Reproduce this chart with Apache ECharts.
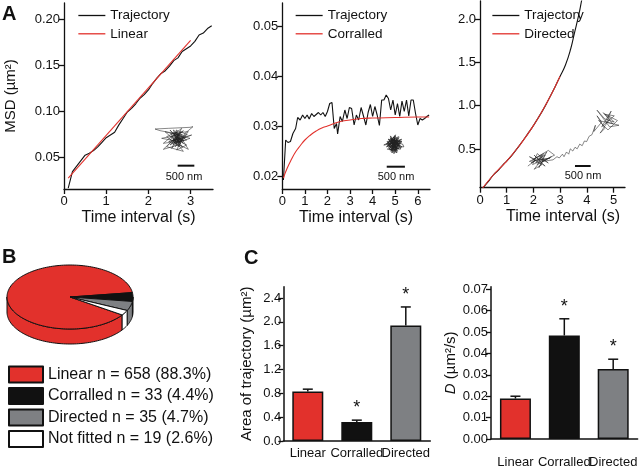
<!DOCTYPE html>
<html><head><meta charset="utf-8">
<script src="https://cdn.jsdelivr.net/npm/echarts@6/dist/echarts.min.js"></script>
<style>html,body{margin:0;padding:0;background:#fff}#c{width:640px;height:469px}</style>
</head><body><div id="c"></div>
<script>
// ---------- DATA ----------
// Panel A1 (Linear)
const a1Time = [0.1,0.2,0.3,0.4,0.5,0.6,0.7,0.8,0.9,1.0,1.1,1.2,1.3,1.4,1.5,1.6,1.7,1.8,1.9,2.0,2.1,2.2,2.3,2.4,2.5,2.6,2.7,2.8,2.9,3.0,3.1,3.2,3.3,3.4,3.5];
const a1Msd  = [0.016,0.034,0.040,0.046,0.052,0.054,0.057,0.061,0.066,0.071,0.074,0.077,0.085,0.092,0.099,0.103,0.108,0.114,0.118,0.123,0.130,0.136,0.141,0.144,0.149,0.155,0.158,0.165,0.168,0.171,0.176,0.183,0.185,0.190,0.193];
const a1FitTime = [0.1,3.0];
const a1Fit     = [0.027,0.177];
// Panel A2 (Corralled)
const a2Time = [0.05,0.15,0.25,0.36,0.47,0.59,0.68,0.79,0.9,1.0,1.1,1.19,1.3,1.4,1.5,1.6,1.7,1.8,1.9,2.0,2.1,2.2,2.3,2.4,2.45,2.56,2.66,2.77,2.87,2.97,3.07,3.18,3.28,3.38,3.49,3.6,3.7,3.8,3.9,4.0,4.1,4.2,4.3,4.4,4.5,4.6,4.7,4.8,4.9,5.0,5.1,5.2,5.3,5.4,5.5,5.6,5.7,5.8,5.9,6.0,6.1,6.2,6.3,6.4,6.5];
const a2Msd  = [0.0192,0.0272,0.0267,0.0269,0.0285,0.0295,0.0317,0.0312,0.0322,0.0315,0.0322,0.0314,0.0325,0.0319,0.0323,0.0327,0.0322,0.0327,0.0319,0.0329,0.0345,0.0347,0.0295,0.0305,0.0284,0.0319,0.0309,0.0332,0.0315,0.0337,0.0335,0.0302,0.0322,0.0312,0.0337,0.0319,0.0302,0.0327,0.0343,0.0319,0.0339,0.0322,0.0301,0.0352,0.0352,0.0362,0.0355,0.0332,0.0352,0.0322,0.0345,0.0319,0.0350,0.0329,0.0352,0.0320,0.0352,0.0352,0.0325,0.0302,0.0315,0.0312,0.0315,0.0319,0.0322];
const a2FitTime = [0.05,0.2,0.4,0.6,0.8,1.0,1.25,1.5,1.75,2.0,2.5,3.0,3.5,4.0,5.0,6.0,6.5];
const a2Fit     = [0.0196,0.0214,0.0233,0.0249,0.0261,0.0272,0.0282,0.0290,0.0296,0.0300,0.0308,0.0312,0.0315,0.0316,0.0317,0.0318,0.0318];
// Panel A3 (Directed)
const a3Time = [0.1,0.3,0.5,0.7,0.9,1.0,1.2,1.5,1.8,2.0,2.3,2.5,2.8,3.0,3.2,3.4,3.53,3.7,3.81,3.9];
const a3Msd  = [0.05,0.12,0.20,0.26,0.33,0.36,0.43,0.55,0.68,0.77,0.92,1.03,1.21,1.34,1.47,1.66,1.83,2.05,2.22,2.35];
const a3FitTime = [0.1,0.5,1.0,1.5,2.0,2.5,3.0];
const a3Fit     = [0.05,0.20,0.36,0.55,0.77,1.03,1.34];
// Inset trajectories (nm)
const inset1Path = [[600,900],[820,1150],[500,1000],[900,700],[700,1200],[1100,900],[400,800],[950,1250],[650,650],[1000,1050],[300,1180],[150,1230],[550,1250],[1200,1280],[1290,1300],[1050,1100],[800,600],[1100,750],[700,950],[1000,560],[500,700],[850,1050],[350,950],[900,850],[1150,1150],[620,1100],[780,800],[1200,950],[450,1150],[980,680],[720,1050],[880,950],[560,850],[1080,1000],[760,700],[930,1150],[650,800],[1020,880],[800,1000],[400,620],[870,760],[1150,620],[950,950],[700,880],[1250,1050],[830,900],[600,1200],[1000,800],[750,1150],[900,1000],[820,980],[700,760],[960,900],[640,1000],[880,1100],[760,860],[1040,940],[700,1120],[920,780],[800,1080],[860,820],[740,1000],[1000,1180],[600,750],[900,920],[780,1200],[1120,1060],[680,900],[850,700],[950,1080]];
const inset2Path = [[646,1114],[780,1250],[520,1000],[700,900],[560,1300],[820,1080],[480,1150],[690,1350],[600,880],[860,1180],[500,1260],[750,1000],[580,1080],[800,1300],[450,1050],[720,1200],[630,950],[880,1050],[540,1180],[700,1380],[610,1000],[770,1150],[470,1200],[660,860],[830,1250],[560,950],[740,1300],[500,1100],[680,1050],[930,1050],[900,1120],[590,1230],[760,930],[530,1050],[710,1150],[640,1320],[850,990],[480,980],[620,1180],[790,1060],[560,1350],[700,1000],[870,1260],[520,1120],[380,1100],[660,1240],[740,880],[600,1050],[820,1150],[450,1130],[690,1290],[580,920],[780,1220],[510,1240],[730,1080],[640,980],[880,1200],[550,1150],[700,1330],[600,1130],[800,1000],[470,1070],[660,1190],[750,1260],[530,990],[690,940],[840,1100],[570,1280],[720,1040],[620,1090],[790,1330],[500,1180],[660,1020],[760,1120],[590,1200],[710,960],[560,1060],[820,1220],[640,1150],[680,1100]];
const inset3Path = [[250,600],[500,800],[300,900],[700,650],[450,500],[800,950],[350,700],[650,850],[900,700],[550,1000],[400,650],[750,800],[600,550],[850,1050],[500,700],[700,950],[300,750],[950,850],[600,800],[450,950],[800,600],[650,700],[1000,900],[550,650],[750,1000],[400,800],[900,1100],[1100,950],[700,750],[1050,800],[1177,900],[1250,860],[1350,980],[1400,900],[1480,1050],[1550,980],[1600,1150],[1680,1080],[1750,1200],[1820,1150],[1900,1300],[1980,1250],[2050,1400],[2120,1380],[2200,1550],[2290,1600],[2400,1900],[2350,1700],[2600,2000],[2450,2200],[2700,1800],[2550,1650],[2850,2100],[2650,2300],[2950,1950],[2500,2050],[2800,1750],[3100,2050],[2700,2250],[3000,2200],[2600,1850],[2900,2350],[2750,2000],[3150,1900],[2850,1850],[2450,2380],[2700,2100],[3000,2000],[2800,2200]];
const inset1Bar = [[830,130],[1330,130]];
const inset2Bar = [[460,503],[960,503]];
const inset3Bar = [[1749,604],[2249,604]];
// Panel B
const pieCats   = ['Linear','Corralled','Directed','Not fitted'];
const pieCounts = [658,33,35,19];
const piePct    = ['88.3','4.4','4.7','2.6'];
// Panel C
const barCats = ['Linear','Corralled','Directed'];
const c1Mean = [0.83,0.32,1.94];
const c1Err  = [0.87,0.35,2.25];
const c1Sig  = [0,1,1];
const c2Mean = [0.0189,0.0484,0.0327];
const c2Err  = [0.0200,0.0562,0.0373];
const c2Sig  = [0,1,1];
const c1Ticks = [0,0.4,0.8,1.2,1.6,2.0,2.4];
const c2Ticks = [0,0.01,0.02,0.03,0.04,0.05,0.06,0.07];

// ---------- STYLE ----------
const FONT = '"Liberation Sans", Arial, sans-serif';
const INK = '#111';
const RED = '#e2312c';
const catColors = [RED, '#111111', '#7e8083', '#ffffff'];

const chart = echarts.init(document.getElementById('c'), null, {renderer:'canvas'});

function valAxis(gi, min, max, ticks, digits, margin, extra){
  return Object.assign({
    type:'value', gridIndex:gi, min, max,
    axisLine:{show:true, onZero:false, lineStyle:{color:INK, width:1.3}},
    axisTick:{show:true, length:5, customValues:ticks, lineStyle:{color:INK, width:1.3}},
    axisLabel:{customValues:ticks, formatter:v=>v.toFixed(digits), fontSize:13, color:INK, fontFamily:FONT, margin},
    splitLine:{show:false}
  }, extra||{});
}
function hiddenAxis(gi, min, max){
  return {type:'value', gridIndex:gi, min, max, show:false, splitLine:{show:false}};
}
const zip = (xs, ys) => xs.map((x,i)=>[x, ys[i]]);
function lineSeries(name, gi, data, color, z, smooth){
  return {type:'line', name, xAxisIndex:gi, yAxisIndex:gi, data, symbol:'none', showSymbol:false,
    smooth:!!smooth, clip:true, z, lineStyle:{color, width:1.1}, itemStyle:{color}};
}
function pathSeries(gi, data, w){
  return {type:'line', xAxisIndex:gi, yAxisIndex:gi, data, symbol:'none', silent:true,
    lineStyle:{color:'#222', width:w, opacity:0.9}, z:1};
}

// pie geometry (layout)
const PG = {cx:70, cy:297, rx:63, ry:32, depth:15, startDeg:34.1};
function pieAngles(i){
  const total = pieCounts.reduce((a,b)=>a+b,0);
  let cum = 0; for (let k=0;k<i;k++) cum += pieCounts[k];
  const a0 = PG.startDeg + 360*cum/total;
  return [a0, a0 + 360*pieCounts[i]/total];
}
function ept(deg, dy){ const r = deg*Math.PI/180; return [PG.cx + PG.rx*Math.cos(r), PG.cy + PG.ry*Math.sin(r) + dy]; }
function arcPts(a0, a1, dy){
  const n = Math.max(2, Math.ceil((a1-a0)/2)); const pts = [];
  for (let k=0;k<=n;k++) pts.push(ept(a0+(a1-a0)*k/n, dy));
  return pts;
}
function pieSide(params){
  const i = params.dataIndex; const [a0,a1] = pieAngles(i);
  const children = [];
  [[0,180],[360,540]].forEach(([lo,hi])=>{
    const s = Math.max(a0,lo), e = Math.min(a1,hi);
    if (e > s) {
      const pts = arcPts(s,e,0).concat(arcPts(s,e,PG.depth).reverse());
      children.push({type:'polygon', shape:{points:pts}, style:{fill:catColors[i], stroke:INK, lineWidth:1}});
    }
  });
  return {type:'group', children};
}
function pieTop(params){
  const i = params.dataIndex; const [a0,a1] = pieAngles(i);
  const pts = [[PG.cx,PG.cy]].concat(arcPts(a0,a1,0));
  return {type:'polygon', shape:{points:pts}, style:{fill:catColors[i], stroke:INK, lineWidth:1, lineJoin:'round'}};
}
function errRender(params, api){
  const x = api.value(0), m = api.value(1), e = api.value(2), s = api.value(3);
  const p0 = api.coord([x, m]); const p1 = api.coord([x, e]);
  const ch = [
    {type:'line', shape:{x1:p0[0], y1:p0[1], x2:p1[0], y2:p1[1]}, style:{stroke:INK, lineWidth:1.5}},
    {type:'line', shape:{x1:p1[0]-5, y1:p1[1], x2:p1[0]+5, y2:p1[1]}, style:{stroke:INK, lineWidth:1.5}}
  ];
  if (s) ch.push({type:'text', x:p1[0], y:p1[1]-12, style:{text:'*', fontSize:18, fontFamily:FONT, fill:INK, align:'center', verticalAlign:'middle'}});
  return {type:'group', children:ch};
}
const pieNames = pieCats.map((c,i)=>c+' n = '+pieCounts[i]+' ('+piePct[i]+'%)');

function legendA(left, names){
  return {left, top:3.5, orient:'vertical', itemWidth:27, itemHeight:10, itemGap:4.3, selectedMode:false,
    itemStyle:{opacity:0}, lineStyle:{width:1.3},
    textStyle:{fontSize:13.5, color:INK, fontFamily:FONT}, data:names};
}

const option = {
  animation:false,
  backgroundColor:'#fff',
  textStyle:{fontFamily:FONT},
  grid:[
    {left:64, top:3, width:149, height:186},
    {left:282.3, top:3, width:147.7, height:186},
    {left:480, top:1, width:145, height:186.7},
    {left:283.3, top:286.7, width:147, height:154.3},
    {left:491, top:286.7, width:149, height:154.3},
    {left:150, top:120, width:50, height:50},
    {left:370, top:125, width:60, height:60},
    {left:520, top:100, width:110, height:85}
  ],
  xAxis:[
    valAxis(0, 0, 3.53, [0,1,2,3], 0, 6, {name:'Time interval (s)', nameLocation:'middle', nameGap:21, nameTextStyle:{fontSize:16, color:INK, fontFamily:FONT}}),
    valAxis(1, 0, 6.54, [0,1,2,3,4,5,6], 0, 6, {name:'Time interval (s)', nameLocation:'middle', nameGap:21, nameTextStyle:{fontSize:16, color:INK, fontFamily:FONT}}),
    valAxis(2, 0, 5.43, [0,1,2,3,4,5], 0, 6, {name:'Time interval (s)', nameLocation:'middle', nameGap:21, nameTextStyle:{fontSize:16, color:INK, fontFamily:FONT, padding:[0,0,0,21]}}),
    {type:'category', gridIndex:3, data:barCats, axisLine:{lineStyle:{color:INK, width:1.5}}, axisTick:{show:false},
      axisLabel:{interval:0, fontSize:13, color:INK, fontFamily:FONT, margin:5.5}},
    {type:'category', gridIndex:4, data:barCats, axisLine:{lineStyle:{color:INK, width:1.5}}, axisTick:{show:false},
      axisLabel:{interval:0, fontSize:13, color:INK, fontFamily:FONT, margin:17}},
    hiddenAxis(5, 0, 1500), hiddenAxis(6, 0, 1650), hiddenAxis(7, 0, 3500)
  ],
  yAxis:[
    valAxis(0, 0.0151, 0.2178, [0.05,0.10,0.15,0.20], 2, 4, {name:'MSD (µm²)', nameLocation:'middle', nameGap:46, nameTextStyle:{fontSize:15, color:INK, fontFamily:FONT}}),
    valAxis(1, 0.0174, 0.0546, [0.02,0.03,0.04,0.05], 2, 4),
    valAxis(2, 0.0535, 2.208, [0.5,1.0,1.5,2.0], 1, 4),
    valAxis(3, 0, 2.59, c1Ticks, 1, 2, {name:'Area of trajectory (µm²)', nameLocation:'middle', nameGap:29, nameTextStyle:{fontSize:15, color:INK, fontFamily:FONT},
      axisLine:{show:true, lineStyle:{color:INK, width:1.5}}}),
    valAxis(4, 0, 0.0712, c2Ticks, 2, 3, {name:'{i|D} (µm²/s)', nameLocation:'middle', nameGap:32, nameTextStyle:{fontSize:15, color:INK, fontFamily:FONT, rich:{i:{fontStyle:'italic', fontSize:15, fontFamily:FONT, color:INK}}},
      axisLine:{show:true, lineStyle:{color:INK, width:1.5}}}),
    hiddenAxis(5, 0, 1500), hiddenAxis(6, 0, 1650), hiddenAxis(7, 0, 2703)
  ],
  legend:[
    legendA(72.7, ['Trajectory','Linear']),
    legendA(290, ['Trajectory','Corralled']),
    legendA(486.7, ['Trajectory','Directed']),
    {left:3, top:360.5, orient:'vertical', itemWidth:34, itemHeight:16, itemGap:3.5, icon:'rect', selectedMode:false,
      textStyle:{fontSize:16, color:INK, fontFamily:FONT}, data:pieNames}
  ],
  graphic:[
    {type:'text', x:2, y:4, style:{text:'A', fontSize:20, fontWeight:'bold', fontFamily:FONT, fill:INK}},
    {type:'text', x:2, y:247, style:{text:'B', fontSize:20, fontWeight:'bold', fontFamily:FONT, fill:INK}},
    {type:'text', x:244, y:248, style:{text:'C', fontSize:20, fontWeight:'bold', fontFamily:FONT, fill:INK}},
    {type:'text', x:184, y:177, style:{text:'500 nm', fontSize:11, fontFamily:FONT, fill:INK, align:'center', verticalAlign:'middle'}},
    {type:'text', x:396, y:177, style:{text:'500 nm', fontSize:11, fontFamily:FONT, fill:INK, align:'center', verticalAlign:'middle'}},
    {type:'text', x:583, y:176, style:{text:'500 nm', fontSize:11, fontFamily:FONT, fill:INK, align:'center', verticalAlign:'middle'}}
  ],
  series:[
    lineSeries('Trajectory', 0, zip(a1Time, a1Msd), INK, 2),
    lineSeries('Linear', 0, zip(a1FitTime, a1Fit), RED, 3),
    lineSeries('Trajectory', 1, zip(a2Time, a2Msd), INK, 2),
    lineSeries('Corralled', 1, zip(a2FitTime, a2Fit), RED, 3, true),
    lineSeries('Trajectory', 2, zip(a3Time, a3Msd), INK, 2, true),
    lineSeries('Directed', 2, zip(a3FitTime, a3Fit), RED, 3, true),
    pathSeries(5, inset1Path, 0.6),
    pathSeries(6, inset2Path, 0.7),
    pathSeries(7, inset3Path, 0.6),
    {type:'line', xAxisIndex:5, yAxisIndex:5, data:inset1Bar, symbol:'none', lineStyle:{color:INK, width:2}},
    {type:'line', xAxisIndex:6, yAxisIndex:6, data:inset2Bar, symbol:'none', lineStyle:{color:INK, width:2}},
    {type:'line', xAxisIndex:7, yAxisIndex:7, data:inset3Bar, symbol:'none', lineStyle:{color:INK, width:2}},
    // pie (3D look) drawn from the counts
    {type:'custom', coordinateSystem:'none', renderItem:pieSide, data:pieCounts.map(v=>[v]), z:1, silent:true},
    {type:'custom', coordinateSystem:'none', renderItem:pieTop, data:pieCounts.map(v=>[v]), z:2, silent:true},
    // legend carrier for panel B
    {type:'pie', center:[-300,-300], radius:5, silent:true, label:{show:false}, labelLine:{show:false},
      data:pieNames.map((n,i)=>({name:n, value:pieCounts[i], itemStyle:{color:catColors[i], borderColor:INK, borderWidth:1}}))},
    // bars C1
    {type:'bar', xAxisIndex:3, yAxisIndex:3, barWidth:31,
      data:c1Mean.map((v,i)=>({value:v, itemStyle:{color:catColors[i], borderColor:INK, borderWidth:1.5}}))},
    {type:'custom', xAxisIndex:3, yAxisIndex:3, renderItem:errRender, encode:{x:0, y:[1,2]},
      data:barCats.map((c,i)=>[i, c1Mean[i], c1Err[i], c1Sig[i]]), z:3},
    // bars C2
    {type:'bar', xAxisIndex:4, yAxisIndex:4, barWidth:31,
      data:c2Mean.map((v,i)=>({value:v, itemStyle:{color:catColors[i], borderColor:INK, borderWidth:1.5}}))},
    {type:'custom', xAxisIndex:4, yAxisIndex:4, renderItem:errRender, encode:{x:0, y:[1,2]},
      data:barCats.map((c,i)=>[i, c2Mean[i], c2Err[i], c2Sig[i]]), z:3}
  ]
};
chart.setOption(option);
</script></body></html>
